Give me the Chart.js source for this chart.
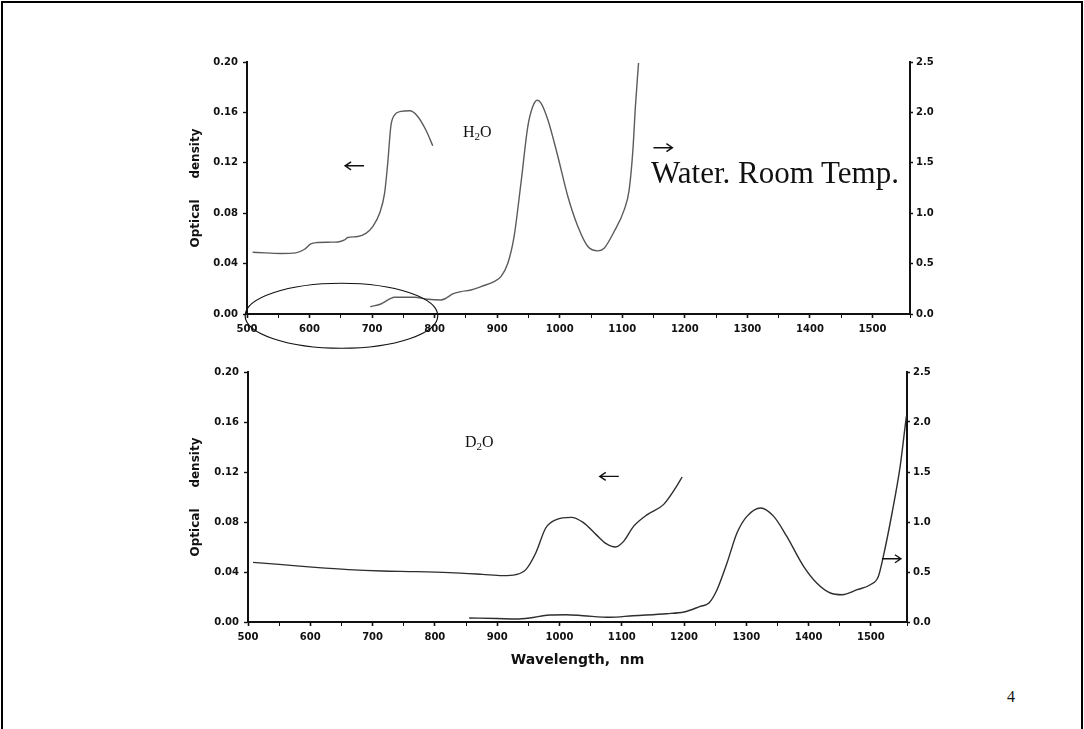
<!DOCTYPE html>
<html>
<head>
<meta charset="utf-8">
<script src="https://cdn.jsdelivr.net/npm/chart.js@4.4.1/dist/chart.umd.min.js"></script>
<style>
  html, body { margin: 0; padding: 0; background: #fff; }
  body { width: 1084px; height: 729px; position: relative; overflow: hidden; }
  #frame { position: absolute; left: 1px; top: 1px; width: 1078px; height: 780px; border: 2px solid #000; }
  canvas { position: absolute; }
  .lbl { position: absolute; font-family: "Liberation Serif", "Times New Roman", serif; color: #111; line-height: 1; white-space: nowrap; }
  .sub { font-size: 11px; position: relative; top: 3px; }
</style>
</head>
<body>
<div id="frame"></div>
<canvas id="topChart" width="790" height="305" style="left:170px;top:45px"></canvas>
<canvas id="bottomChart" width="790" height="318" style="left:170px;top:355px"></canvas>

<div class="lbl" style="left:463px;top:124px;font-size:16px">H<span class="sub">2</span>O</div>
<div class="lbl" style="left:465px;top:434px;font-size:16px">D<span class="sub">2</span>O</div>
<div class="lbl" style="left:651px;top:157px;font-size:31px">Water. Room Temp.</div>
<div class="lbl" style="left:1007px;top:689px;font-size:16px">4</div>

<script>
// H2O, short wavelength part (left axis, optical density)
const h2oVisNm = [509, 530, 555, 578, 592, 602, 613, 630, 645, 656, 661, 677, 690, 701, 712, 720, 725, 730, 736, 746, 760, 773, 786, 797];
const h2oVisOD = [0.049, 0.0485, 0.048, 0.0485, 0.0514, 0.0556, 0.0567, 0.057, 0.0572, 0.0588, 0.0607, 0.0615, 0.064, 0.0694, 0.080, 0.0959, 0.1197, 0.149, 0.158, 0.1608, 0.1613, 0.1568, 0.146, 0.1335];

// H2O, long wavelength part (right axis)
const h2oNirNm = [697, 714, 730, 736, 768, 789, 810, 818, 829, 842, 858, 874, 895, 906, 917, 927, 938, 949, 957, 964, 970, 981, 997, 1013, 1029, 1045, 1061, 1071, 1087, 1103, 1111, 1117, 1121, 1126];
const h2oNirOD = [0.073, 0.099, 0.156, 0.166, 0.166, 0.146, 0.139, 0.156, 0.199, 0.222, 0.238, 0.272, 0.321, 0.371, 0.503, 0.768, 1.298, 1.861, 2.06, 2.12, 2.093, 1.927, 1.563, 1.166, 0.868, 0.669, 0.626, 0.652, 0.818, 1.033, 1.232, 1.629, 2.06, 2.49];

// D2O, short wavelength part (left axis)
const d2oVisNm = [508, 555, 608, 661, 715, 769, 823, 876, 909, 930, 946, 962, 978, 995, 1019, 1038, 1059, 1075, 1090, 1103, 1119, 1141, 1167, 1188, 1197];
const d2oVisOD = [0.0477, 0.0459, 0.0437, 0.0419, 0.0408, 0.0403, 0.0395, 0.0381, 0.0371, 0.0379, 0.0419, 0.0552, 0.0752, 0.0819, 0.0837, 0.0797, 0.0699, 0.0627, 0.060, 0.0645, 0.0765, 0.0859, 0.0939, 0.1085, 0.116];

// D2O, long wavelength part (right axis)
const d2oNirNm = [855, 900, 930, 952, 984, 1011, 1038, 1081, 1118, 1172, 1200, 1226, 1240, 1253, 1269, 1285, 1301, 1323, 1344, 1365, 1392, 1413, 1435, 1454, 1478, 1499, 1512, 1520, 1534, 1547, 1555, 1557];
const d2oNirOD = [0.04, 0.035, 0.03, 0.04, 0.07, 0.073, 0.063, 0.047, 0.063, 0.083, 0.10, 0.156, 0.19, 0.323, 0.59, 0.89, 1.056, 1.14, 1.056, 0.856, 0.556, 0.39, 0.29, 0.273, 0.323, 0.373, 0.456, 0.656, 1.09, 1.556, 1.956, 2.056];

const leftTicks = [0, 0.04, 0.08, 0.12, 0.16, 0.20];
const rightTicks = [0, 0.5, 1.0, 1.5, 2.0, 2.5];

Chart.defaults.font.family = '"DejaVu Sans", sans-serif';
Chart.defaults.color = '#111';

const toPoints = (xs, ys) => xs.map((x, i) => ({ x: x, y: ys[i] }));

// arrows and the hand drawn ellipse, placed in data units
const marks = {
  id: 'marks',
  afterDraw(chart, args, opts) {
    const ctx = chart.ctx, xs = chart.scales.x, ys = chart.scales.y;
    ctx.save();
    ctx.strokeStyle = '#111';
    ctx.lineWidth = 1.4;
    (opts.arrows || []).forEach(a => {
      const px = xs.getPixelForValue(a.x), py = ys.getPixelForValue(a.y);
      const tip = px + a.dir * 9.5;
      ctx.beginPath();
      ctx.moveTo(px - 9.5, py);
      ctx.lineTo(px + 9.5, py);
      ctx.moveTo(tip - a.dir * 6, py - 4);
      ctx.lineTo(tip, py);
      ctx.lineTo(tip - a.dir * 6, py + 4);
      ctx.stroke();
    });
    if (opts.ellipse) {
      const e = opts.ellipse;
      const cx = xs.getPixelForValue(e.x), cy = ys.getPixelForValue(e.y);
      const rx = Math.abs(xs.getPixelForValue(e.x + e.rx) - cx);
      const ry = Math.abs(ys.getPixelForValue(e.y + e.ry) - cy);
      ctx.lineWidth = 1.2;
      ctx.beginPath();
      ctx.ellipse(cx, cy, rx, ry, 0, 0, Math.PI * 2);
      ctx.stroke();
    }
    ctx.restore();
  }
};

function makeChart(id, cfg) {
  const lineStyle = { borderColor: cfg.color, borderWidth: 1.4, pointRadius: 0, cubicInterpolationMode: 'monotone', fill: false };
  return new Chart(document.getElementById(id), {
    type: 'line',
    data: {
      datasets: [
        Object.assign({ label: 'short', data: toPoints(cfg.visNm, cfg.visOD), yAxisID: 'y' }, lineStyle),
        Object.assign({ label: 'long', data: toPoints(cfg.nirNm, cfg.nirOD), yAxisID: 'y2' }, lineStyle)
      ]
    },
    options: {
      responsive: false,
      animation: false,
      devicePixelRatio: 1,
      layout: { padding: { top: 17, left: 0, right: 0, bottom: 0 } },
      plugins: {
        legend: { display: false },
        tooltip: { enabled: false },
        marks: { arrows: cfg.arrows, ellipse: cfg.ellipse }
      },
      scales: {
        x: {
          type: 'linear', min: 500, max: cfg.xMax,
          grid: { drawOnChartArea: false, tickLength: 4, tickColor: '#111',
                  tickWidth: c => (c.tick && c.tick.value % 100 === 0) ? 1.6 : 1 },
          border: { color: '#111', width: 2 },
          ticks: { stepSize: 50, autoSkip: false, maxRotation: 0, padding: 5,
                   font: { size: 10, weight: 'bold' },
                   callback: v => v % 100 === 0 ? String(v) : '' },
          title: { display: cfg.xTitle, text: 'Wavelength,  nm', font: { size: 14, weight: 'bold' }, padding: { top: 2, bottom: 4 } },
          afterFit: s => { s.height = cfg.xHeight; }
        },
        y: {
          position: 'left', min: 0, max: 0.2,
          afterBuildTicks: s => { s.ticks = leftTicks.map(v => ({ value: v })); },
          grid: { drawOnChartArea: false, tickLength: 4, tickColor: '#111', tickWidth: 1.4 },
          border: { color: '#111', width: 2 },
          ticks: { padding: 5, font: { size: 10, weight: 'bold' }, callback: v => v.toFixed(2) },
          title: { display: true, text: 'Optical     density', font: { size: 12, weight: 'bold' }, padding: { top: 19, bottom: 0 } },
          afterFit: s => { s.width = cfg.leftW; }
        },
        y2: {
          position: 'right', min: 0, max: 2.5,
          afterBuildTicks: s => { s.ticks = rightTicks.map(v => ({ value: v })); },
          grid: { drawOnChartArea: false, tickLength: 3, tickColor: '#111', tickWidth: 1.4 },
          border: { color: '#111', width: 2 },
          ticks: { padding: 3, font: { size: 10, weight: 'bold' }, callback: v => v.toFixed(1) },
          afterFit: s => { s.width = cfg.rightW; }
        }
      }
    },
    plugins: [marks]
  });
}

makeChart('topChart', {
  visNm: h2oVisNm, visOD: h2oVisOD, nirNm: h2oNirNm, nirOD: h2oNirOD,
  color: '#5c5c5c', xMax: 1560, xTitle: false, xHeight: 36, leftW: 77, rightW: 50,
  arrows: [{ x: 672, y: 0.1176, dir: -1 }, { x: 1165, y: 0.132, dir: 1 }],
  ellipse: { x: 651, y: -0.0014, rx: 154, ry: 0.0258 }
});

makeChart('bottomChart', {
  visNm: d2oVisNm, visOD: d2oVisOD, nirNm: d2oNirNm, nirOD: d2oNirOD,
  color: '#2e2e2e', xMax: 1558, xTitle: true, xHeight: 51, leftW: 78, rightW: 53,
  arrows: [{ x: 1080, y: 0.1165, dir: -1 }, { x: 1533, y: 0.0506, dir: 1 }]
});
</script>
</body>
</html>
